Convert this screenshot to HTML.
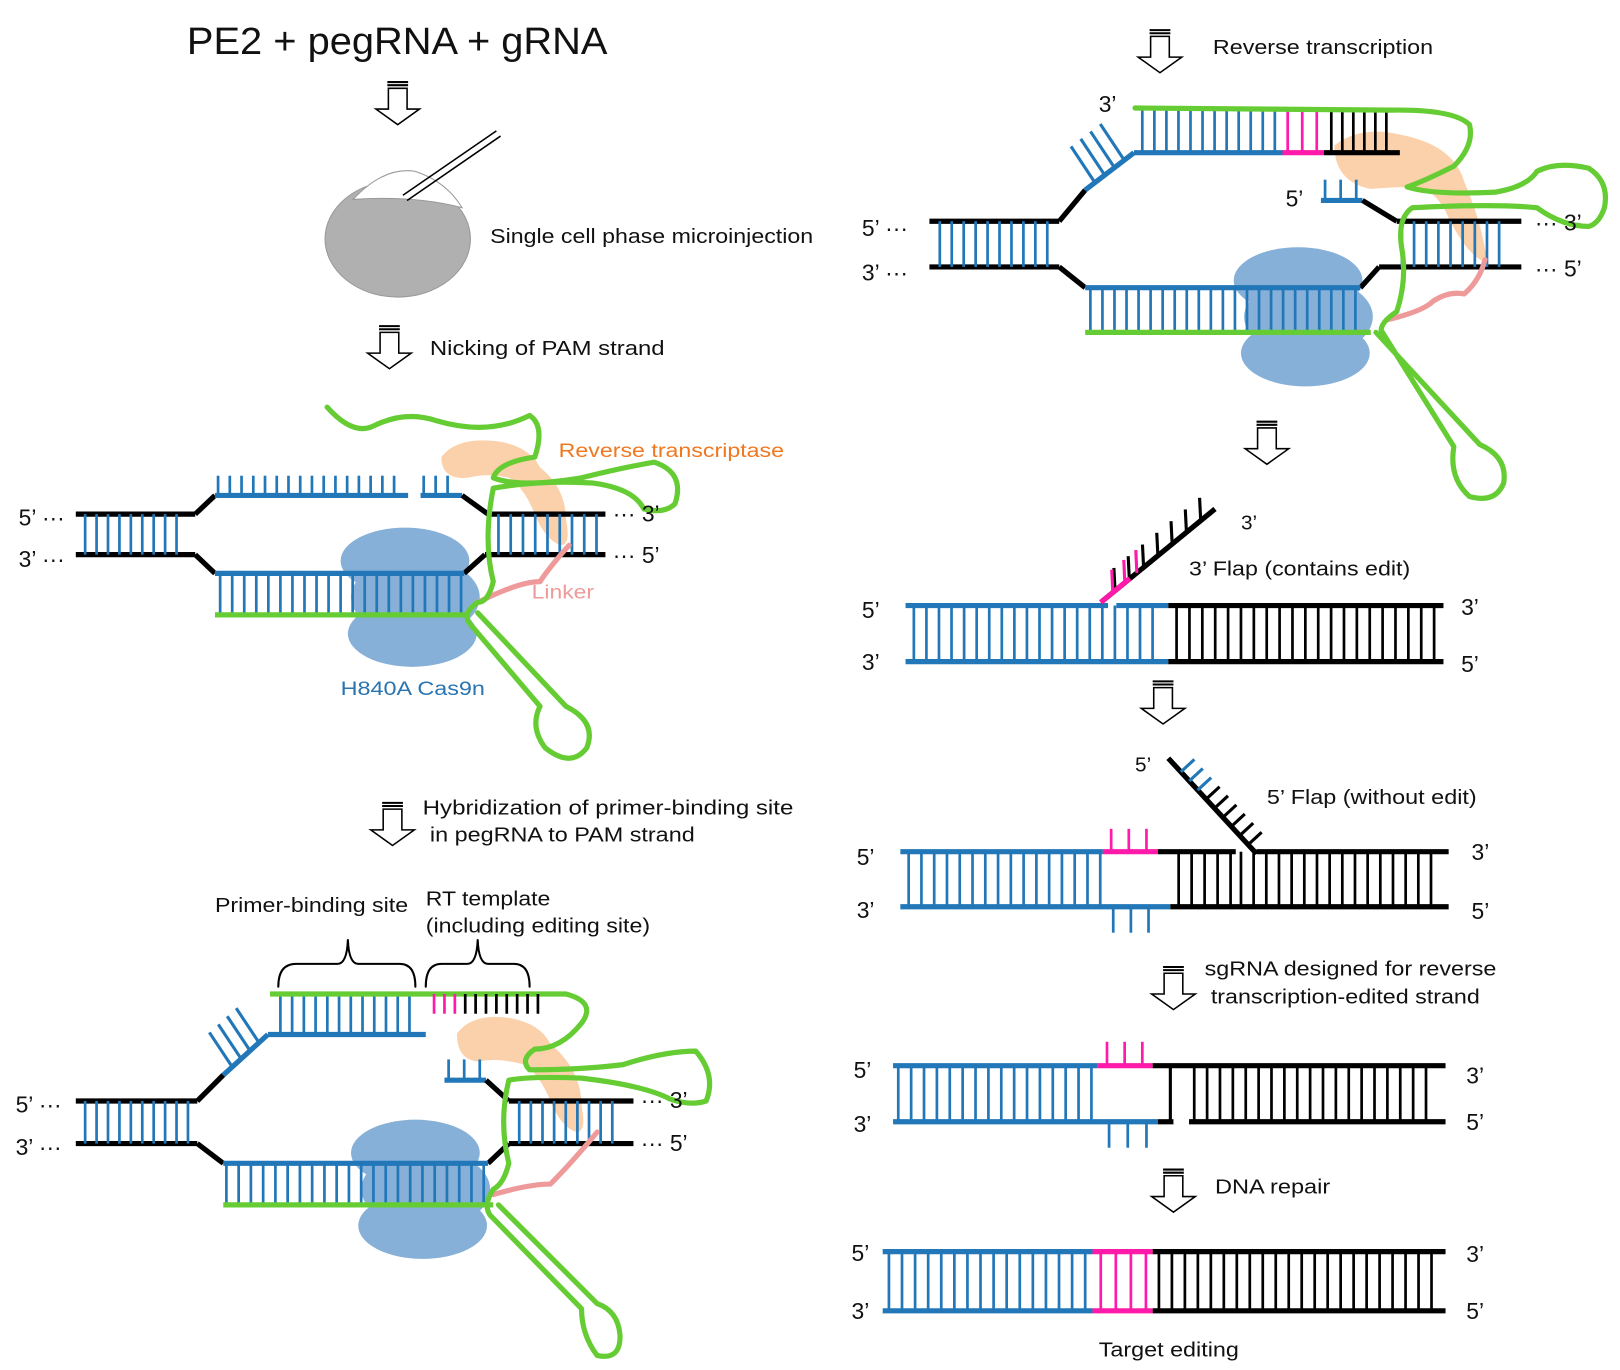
<!DOCTYPE html>
<html><head><meta charset="utf-8"><style>
html,body{margin:0;padding:0;background:#fff;}
svg{display:block;}
text{font-family:"Liberation Sans",Arial,sans-serif;fill:#111;}
</style></head><body>
<svg id="s" width="1620" height="1370" viewBox="0 0 1560 1319" preserveAspectRatio="none" xmlns="http://www.w3.org/2000/svg">
<g id="bg"></g>
<g id="g"></g>
<text x="180" y="52" font-size="37" textLength="405" lengthAdjust="spacingAndGlyphs">PE2 + pegRNA + gRNA</text>
<text x="472" y="234" font-size="20" textLength="311" lengthAdjust="spacingAndGlyphs">Single cell phase microinjection</text>
<text x="414" y="342" font-size="20" textLength="226" lengthAdjust="spacingAndGlyphs">Nicking of  PAM strand</text>
<text x="538" y="440" font-size="19" textLength="217" lengthAdjust="spacingAndGlyphs" style="fill:#f07820">Reverse transcriptase</text>
<text x="512" y="576" font-size="19" textLength="60" lengthAdjust="spacingAndGlyphs" style="fill:#ee9a9a">Linker</text>
<text x="328" y="669" font-size="19" textLength="139" lengthAdjust="spacingAndGlyphs" style="fill:#2a74b0">H840A Cas9n</text>
<text x="407" y="784" font-size="20" textLength="357" lengthAdjust="spacingAndGlyphs">Hybridization of  primer-binding  site</text>
<text x="414" y="810" font-size="20" textLength="255" lengthAdjust="spacingAndGlyphs">in pegRNA to PAM strand</text>
<text x="207" y="878" font-size="20" textLength="186" lengthAdjust="spacingAndGlyphs">Primer-binding site</text>
<text x="410" y="872" font-size="20" textLength="120" lengthAdjust="spacingAndGlyphs">RT template</text>
<text x="410" y="898" font-size="20" textLength="216" lengthAdjust="spacingAndGlyphs">(including editing site)</text>
<text x="1168" y="52" font-size="20" textLength="212" lengthAdjust="spacingAndGlyphs">Reverse transcription</text>
<text x="1195" y="510" font-size="20">3’</text>
<text x="1145" y="554" font-size="20" textLength="213" lengthAdjust="spacingAndGlyphs">3’ Flap (contains edit)</text>
<text x="1093" y="743" font-size="20">5’</text>
<text x="1220" y="774" font-size="20" textLength="202" lengthAdjust="spacingAndGlyphs">5’ Flap (without edit)</text>
<text x="1160" y="939" font-size="20" textLength="281" lengthAdjust="spacingAndGlyphs">sgRNA designed for reverse</text>
<text x="1166" y="966" font-size="20" textLength="259" lengthAdjust="spacingAndGlyphs">transcription-edited strand</text>
<text x="1170" y="1149" font-size="20" textLength="111" lengthAdjust="spacingAndGlyphs">DNA repair</text>
<text x="1058" y="1306" font-size="20" textLength="135" lengthAdjust="spacingAndGlyphs">Target editing</text>
<g font-size="22">
<text x="18" y="506">5’ ···</text><text x="18" y="546">3’ ···</text>
<text x="590" y="502">··· 3’</text><text x="590" y="542">··· 5’</text>
<text x="15" y="1071">5’ ···</text><text x="15" y="1112">3’ ···</text>
<text x="617" y="1067">··· 3’</text><text x="617" y="1108">··· 5’</text>
<text x="1058" y="108">3’</text>
<text x="1238" y="199">5’</text>
<text x="830" y="227">5’ ···</text><text x="830" y="270">3’ ···</text>
<text x="1478" y="222">··· 3’</text><text x="1478" y="266">··· 5’</text>
<text x="830" y="595">5’</text><text x="830" y="645">3’</text>
<text x="1407" y="592">3’</text><text x="1407" y="647">5’</text>
<text x="825" y="833">5’</text><text x="825" y="884">3’</text>
<text x="1417" y="828">3’</text><text x="1417" y="885">5’</text>
<text x="822" y="1038">5’</text><text x="822" y="1090">3’</text>
<text x="1412" y="1043">3’</text><text x="1412" y="1088">5’</text>
<text x="820" y="1214">5’</text><text x="820" y="1270">3’</text>
<text x="1412" y="1215">3’</text><text x="1412" y="1270">5’</text>
</g>
</svg>
<script>
var NS="http://www.w3.org/2000/svg",G=document.getElementById('g'),BG=document.getElementById('bg');
var B="#2277b8",K="#000",GR="#66cc33",P="#ff1aaa",PE="#fbd1ab",CAS="#86b0d8",LK="#ee9a9a";
function el(t,a,p){var e=document.createElementNS(NS,t);for(var k in a)e.setAttribute(k,a[k]);(p||G).appendChild(e);return e;}
function L(x1,y1,x2,y2,c,w){el('line',{x1:x1,y1:y1,x2:x2,y2:y2,stroke:c,'stroke-width':w||5});}
function R(x1,x2,y1,y2,st,c,w){for(var x=x1;x<=x2+0.1;x+=st)L(x,y1,x,y2,c,w||2.6);}
function Pth(d,c,w,f,p){el('path',{d:d,fill:f||'none',stroke:c,'stroke-width':w||5,'stroke-linejoin':'round','stroke-linecap':'round'},p);}
function arrow(cx,y){
  L(cx-10,y+1,cx+10,y+1,K,2);L(cx-10,y+4,cx+10,y+4,K,2);
  el('path',{d:'M'+(cx-9)+' '+(y+7)+'V'+(y+27)+'H'+(cx-21)+'L'+cx+' '+(y+42)+'L'+(cx+21)+' '+(y+27)+'H'+(cx+9)+'V'+(y+7)+'Z',fill:'#fff',stroke:K,'stroke-width':1.5});
}
function cas(cx,cy){
  el('ellipse',{cx:cx-5,cy:cy-35,rx:62,ry:32,fill:CAS},BG);
  el('ellipse',{cx:cx+2,cy:cy+35,rx:62,ry:32,fill:CAS},BG);
  el('ellipse',{cx:cx+5,cy:cy,rx:62,ry:38,fill:CAS},BG);
}
function diag(x1,y1,x2,y2,n,len,c,dir){
  L(x1,y1,x2,y2,c,5);
  for(var i=1;i<=n;i++){var t=i/(n+1),x=x1+(x2-x1)*t,y=y1+(y2-y1)*t;L(x,y,x+dir[0]*len,y+dir[1]*len,c,3);}
}
[[383,78],[375,313],[378,772],[1117,28],[1220,405],[1120,655],[1130,930],[1130,1125]].forEach(function(a){arrow(a[0],a[1]);});
el('ellipse',{cx:383,cy:230,rx:70,ry:56,fill:'#b0b0b0',stroke:'#999','stroke-width':1});
el('path',{d:'M340 192 Q370 160 400 165 Q430 175 445 200 Q400 188 340 192Z',fill:'#fff',stroke:'#999','stroke-width':1});
L(388,188,478,126,K,1.5);L(392,193,482,131,K,1.5);

// Panel A
cas(395,575);
el('path',{d:'M425 440 Q440 420 480 425 Q510 430 520 450 Q545 470 545 500 Q550 525 540 525 Q525 520 515 495 Q505 470 490 460 Q470 455 450 460 Q425 462 425 440Z',fill:PE},BG);
L(73,495,188,495,K);L(188,495,207,477,K);L(73,534,188,534,K);L(188,534,207,552,K);
R(82,178,495,534,11,B);
L(207,477,393,477,B);R(210,390,458,477,11.3,B);
L(405,477,445,477,B);R(408,442,458,477,11.5,B);
L(445,477,470,495,K);L(470,495,583,495,K);L(447,552,467,534,K);L(467,534,583,534,K);
R(480,575,495,534,11.8,B);
L(207,552,447,552,B);R(212,444,552,590,11.6,B);L(207,592,452,592,GR,5);
Pth('M460 580 Q500 560 520 560 Q530 545 548 525',LK,5);
Pth('M315 392 Q340 420 360 410 Q390 395 420 405 Q470 420 510 400 Q525 410 515 440 Q480 445 475 460 Q500 470 560 460 Q600 450 630 445 Q660 455 650 485 Q640 495 620 490 Q610 470 570 465 Q520 462 475 470 Q465 520 475 560 Q470 580 460 580 Q445 590 452 600 L520 680 Q510 700 525 720 Q550 740 565 720 Q575 695 545 680 L460 590',GR,5);

// Panel B
cas(405,1145);
el('path',{d:'M440 995 Q455 975 490 980 Q520 985 530 1005 Q560 1030 560 1065 Q565 1090 555 1090 Q540 1085 530 1060 Q520 1035 505 1025 Q480 1018 460 1022 Q440 1020 440 995Z',fill:PE},BG);
L(73,1060,190,1060,K);L(190,1060,215,1035,K);L(73,1101,190,1101,K);L(190,1101,215,1120,K);
R(82,182,1060,1101,11,B);
diag(215,1035,258,996,4,40,B,[-0.55,-0.83]);
L(258,996,410,996,B);R(270,405,957,996,11.3,B);
L(260,957,545,957,GR,5);R(418,438,957,976,10,P);R(448,518,957,976,10,K);
L(428,1040,468,1040,B);R(432,462,1020,1040,15,B);
L(468,1040,490,1060,K);L(490,1060,610,1060,K);L(470,1120,490,1101,K);L(490,1101,610,1101,K);
R(500,600,1060,1101,11.2,B);
L(215,1120,470,1120,B);R(218,466,1120,1158,11.8,B);L(215,1160,475,1160,GR,5);
Pth('M475 1150 Q510 1140 530 1140 Q550 1120 575 1090',LK,5);
Pth('M545 957 Q575 965 560 985 Q540 1010 515 1010 Q500 1020 510 1030 Q560 1030 600 1025 Q640 1012 670 1012 Q690 1035 680 1060 Q665 1065 645 1058 Q620 1045 560 1038 Q510 1036 490 1040 Q480 1080 490 1120 Q485 1140 475 1145 Q465 1160 472 1170 L560 1260 Q560 1285 575 1305 Q598 1310 597 1285 Q595 1262 575 1255 L480 1160',GR,5);
Pth('M268 950 Q268 928 285 928 L325 928 Q334 928 335 905 Q336 928 345 928 L385 928 Q400 928 400 950',K,2);
Pth('M410 950 Q410 928 425 928 L450 928 Q459 928 460 905 Q461 928 470 928 L495 928 Q510 928 510 950',K,2);

// Panel C
cas(1255,305);
el('path',{d:'M1285 140 Q1310 120 1350 130 Q1400 140 1410 175 Q1425 210 1430 240 Q1435 255 1425 250 Q1410 240 1395 210 Q1385 185 1365 180 Q1340 180 1320 182 Q1285 175 1285 140Z',fill:PE},BG);
L(895,213,1020,213,K);L(1020,213,1045,183,K);L(895,257,1020,257,K);L(1020,257,1045,277,K);
R(905,1010,213,257,11.5,B);
diag(1045,183,1092,147,4,42,B,[-0.55,-0.83]);
L(1092,147,1235,147,B);L(1235,147,1275,147,P);L(1275,147,1348,147,K);
R(1100,1228,105,147,11.6,B);R(1240,1268,105,147,14,P);R(1282,1335,105,147,10.6,K);
L(1272,193,1312,193,B);R(1276,1306,173,193,15,B);
L(1312,193,1345,213,K);L(1345,213,1465,213,K);L(1310,277,1328,257,K);L(1328,257,1465,257,K);
R(1350,1455,213,257,11.7,B);
L(1045,277,1310,277,B);R(1050,1306,277,318,11.6,B);L(1045,320,1320,320,GR,5);
Pth('M1335 308 Q1370 300 1380 290 Q1395 280 1410 283 Q1425 270 1430 250',LK,5);
Pth('M1093 104 L1340 106 Q1400 105 1415 120 Q1420 140 1400 160 Q1370 175 1355 180 Q1380 188 1440 185 Q1470 180 1480 165 Q1500 155 1530 162 Q1550 175 1545 200 Q1540 215 1530 218 Q1505 218 1480 200 Q1440 196 1360 200 Q1345 210 1350 240 Q1355 270 1345 300 Q1330 310 1330 318 L1400 430 Q1395 460 1415 478 Q1440 485 1448 465 Q1452 440 1425 428 L1325 320',GR,5);

// Panel D
L(872,583,1067,583,B);L(1075,583,1125,583,B);L(1125,583,1390,583,K);
L(872,637,1125,637,B);L(1125,637,1390,637,K);
R(880,1120,583,637,12.1,B);R(1133,1382,583,637,12.4,K);
diag(1060,580,1170,490,7,22,K,[-0.05,-1]);
for(var i=1;i<=3;i++){var t=i/9.5;L(1060+110*t,580-90*t,1060+110*t-1,580-90*t-22,P,3);}
L(1060,580,1088,557,P,5);

// Panel E
L(867,820,1062,820,B);L(1062,820,1115,820,P);L(1115,820,1190,820,K);L(1210,820,1395,820,K);
L(867,873,1127,873,B);L(1127,873,1395,873,K);
R(875,1060,820,873,12.3,B);R(1070,1105,798,820,17,P);R(1072,1108,873,898,17,B);
R(1135,1185,820,873,12.5,K);R(1195,1390,820,873,12.2,K);
L(1210,822,1125,730,K);
for(var i=1;i<=9;i++){var t=i/10.5,x=1210-85*t,y=822-92*t;L(x,y,x+13,y-12,i>6?B:K,3);}

// Panel F
L(860,1026,1057,1026,B);L(1057,1026,1110,1026,P);L(1110,1026,1392,1026,K);
L(860,1080,1115,1080,B);L(1115,1080,1130,1080,K);L(1145,1080,1392,1080,K);
R(865,1052,1026,1080,12.4,B);R(1066,1100,1003,1026,17,P);R(1068,1104,1080,1105,18,B);
L(1127,1026,1127,1080,K,3);R(1150,1385,1026,1080,12.4,K);

// Panel G
L(850,1205,1052,1205,B);L(1052,1205,1110,1205,P);L(1110,1205,1392,1205,K);
L(850,1262,1052,1262,B);L(1052,1262,1110,1262,P);L(1110,1262,1392,1262,K);
R(856,1046,1205,1262,12.6,B);R(1060,1104,1205,1262,14.5,P);R(1116,1386,1205,1262,12.5,K);
</script>
</body></html>
